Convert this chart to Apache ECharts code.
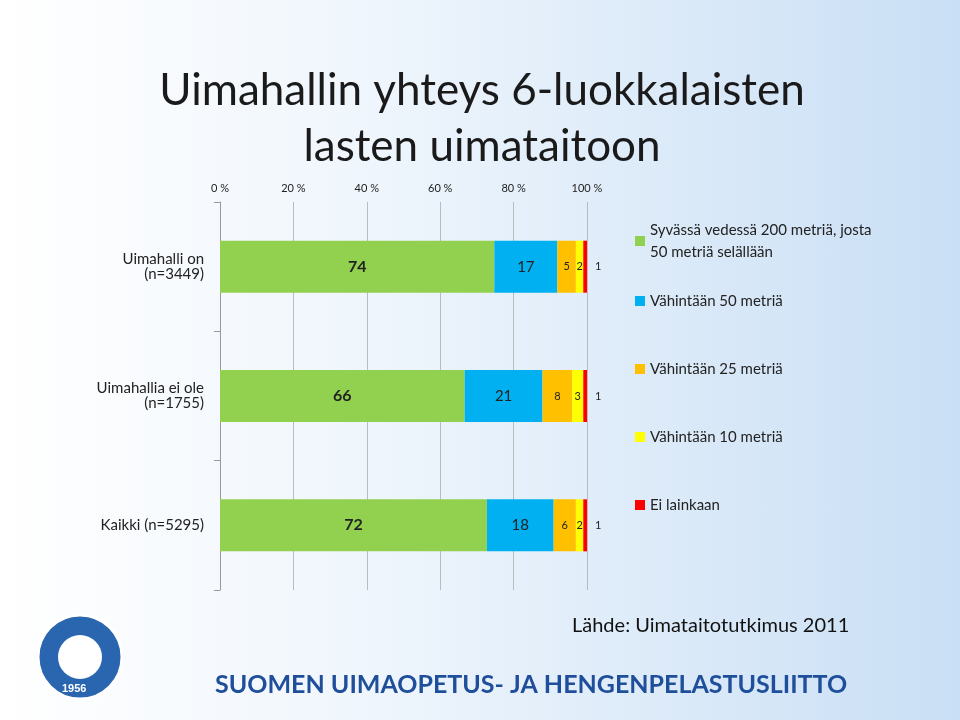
<!DOCTYPE html>
<html><head><meta charset="utf-8">
<script src="https://cdn.jsdelivr.net/npm/echarts@6/dist/echarts.min.js"></script>
<style>html,body{margin:0;padding:0;}#c{width:960px;height:720px;background:linear-gradient(90deg,#ffffff 0%,#eef5fc 40%,#c9dff5 100%);}</style>
</head><body><div id="c"></div>
<script>
const categories = ['Uimahalli on\n(n=3449)', 'Uimahallia ei ole\n(n=1755)', 'Kaikki (n=5295)'];
const seriesNames = ['Syvässä vedessä 200 metriä, josta\n50 metriä selällään', 'Vähintään 50 metriä', 'Vähintään 25 metriä', 'Vähintään 10 metriä', 'Ei lainkaan'];
const seriesValues = [
  [74, 66, 72],
  [17, 21, 18],
  [5, 8, 6],
  [2, 3, 2],
  [1, 1, 1]
];
const colors = ['#92D050', '#00B0F0', '#FFC000', '#FFFF00', '#FF0000'];
const tickLabels = ['0 %', '20 %', '40 %', '60 %', '80 %', '100 %'];
const F = 'Lato, "Open Sans", sans-serif';
const chart = echarts.init(document.getElementById('c'));
const legendBase = {orient: 'vertical', left: 630, itemWidth: 10, itemHeight: 10, icon: 'rect',
  textStyle: {fontSize: 15, color: '#222', lineHeight: 22}};
chart.setOption({
  animation: false,
  textStyle: {fontFamily: F},
  title: {text: 'Uimahallin yhteys 6-luokkalaisten\nlasten uimataitoon', left: 477, textAlign: 'center', top: 58,
    textStyle: {fontSize: 44, fontWeight: 'normal', color: '#1a1a1a', lineHeight: 56, fontFamily: F}},
  grid: {left: 220, right: 373, top: 202, bottom: 130},
  xAxis: {type: 'value', position: 'top', min: 0, max: 99, interval: 19.8,
    axisLabel: {formatter: (v) => tickLabels[Math.round(v / 19.8)], fontSize: 11, color: '#222'},
    axisLine: {show: false}, axisTick: {show: false},
    splitLine: {lineStyle: {color: '#bbbbbb'}}},
  yAxis: {type: 'category', inverse: true, data: categories,
    axisLine: {lineStyle: {color: '#999'}}, axisTick: {show: true, length: 6, lineStyle: {color: '#999'}},
    axisLabel: {fontSize: 15, color: '#222', align: 'right', margin: 16}},
  legend: [
    Object.assign({}, legendBase, {top: 214, data: [seriesNames[0]]}),
    Object.assign({}, legendBase, {top: 285, itemGap: 46, data: seriesNames.slice(1)})
  ],
  series: seriesNames.map((n, i) => ({
    name: n, type: 'bar', stack: 't', barWidth: 52, data: seriesValues[i],
    itemStyle: {color: colors[i]},
    label: {show: true, position: i === 4 ? 'right' : 'inside', fontSize: i === 0 ? 16 : (i === 1 ? 15 : 11),
      fontWeight: i === 0 ? 'bold' : 'normal', color: '#222', distance: 8}
  })),
  graphic: [
    {type: 'text', left: 572, top: 616, style: {text: 'Lähde: Uimataitotutkimus 2011', fontSize: 20, fill: '#111', fontFamily: F}},
    {type: 'text', left: 215, top: 672, style: {text: 'SUOMEN UIMAOPETUS- JA HENGENPELASTUSLIITTO', fontSize: 25, fontWeight: 'bold', fill: '#1f4e9a', fontFamily: F}},
    {type: 'circle', shape: {cx: 80, cy: 657, r: 42}, style: {fill: '#2a66b0', stroke: '#ffffff', lineWidth: 3}},
    {type: 'circle', shape: {cx: 80, cy: 657, r: 22}, style: {fill: '#ffffff'}},
    {type: 'text', left: 62, top: 683, style: {text: '1956', fontSize: 11, fontWeight: 'bold', fill: '#ffffff'}}
  ]
});
</script></body></html>
